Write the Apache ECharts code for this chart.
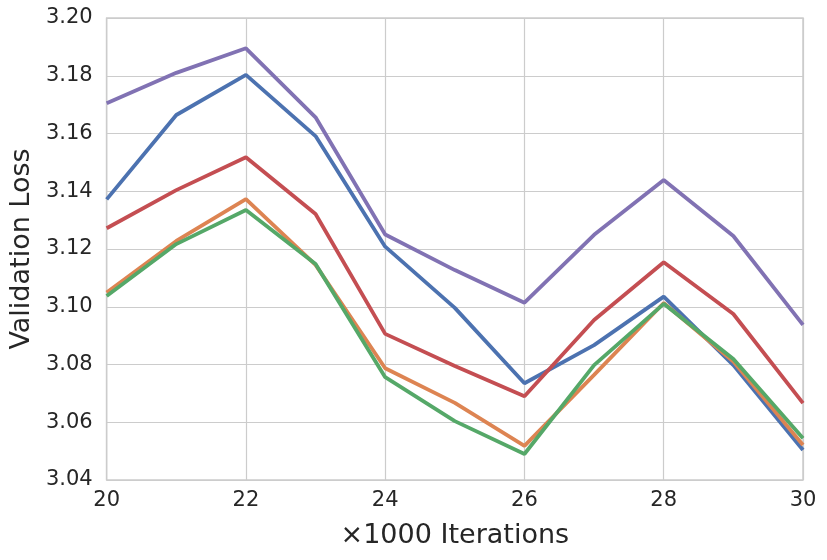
<!DOCTYPE html>
<html><head><meta charset="utf-8">
<script src="https://cdn.jsdelivr.net/npm/echarts@6/dist/echarts.min.js"></script>
<style>html,body{margin:0;padding:0;background:#fff}#c{width:827px;height:560px}</style>
</head><body><div id="c"></div>
<script>
const iterations = [20,21,22,23,24,25,26,27,28,29,30];
const seriesBlue   = [3.1372,3.1664,3.1803,3.1591,3.1208,3.0996,3.0735,3.0867,3.1035,3.0798,3.0504];
const seriesOrange = [3.1049,3.1228,3.1373,3.1145,3.0787,3.0667,3.0518,3.0764,3.1013,3.0810,3.0521];
const seriesGreen  = [3.1037,3.1217,3.1335,3.1148,3.0756,3.0604,3.0490,3.0798,3.1010,3.0819,3.0545];
const seriesRed    = [3.1272,3.1404,3.1518,3.1321,3.0906,3.0795,3.0690,3.0954,3.1154,3.0975,3.0666];
const seriesPurple = [3.1705,3.1810,3.1895,3.1656,3.1250,3.1127,3.1014,3.1249,3.1439,3.1245,3.0937];
const xLabel = '×1000 Iterations';
const yLabel = 'Validation Loss';

const colors = ['#4C72B0','#DD8452','#55A868','#C44E52','#8172B3'];
const all = [seriesBlue, seriesOrange, seriesGreen, seriesRed, seriesPurple];
const font = 'DejaVu Sans';
const chart = echarts.init(document.getElementById('c'), null, {renderer:'canvas'});
chart.setOption({
  animation:false,
  backgroundColor:'#fff',
  grid:{left:106, top:18, width:697, height:462, show:true, borderColor:'#cccccc', borderWidth:1.5},
  xAxis:{type:'value', min:20, max:30, interval:2,
    name:xLabel, nameLocation:'middle', nameGap:42,
    nameTextStyle:{fontFamily:font, fontSize:27, color:'#262626'},
    axisLine:{show:false}, axisTick:{show:false},
    axisLabel:{fontFamily:font, fontSize:21, color:'#262626', margin:10},
    splitLine:{show:true, lineStyle:{color:'#cccccc', width:1.2}}},
  yAxis:{type:'value', min:3.04, max:3.20, interval:0.02,
    name:yLabel, nameLocation:'middle', nameGap:58,
    nameTextStyle:{fontFamily:font, fontSize:27, color:'#262626'},
    axisLine:{show:false}, axisTick:{show:false},
    axisLabel:{fontFamily:font, fontSize:21, color:'#262626', margin:14, formatter:v=>v.toFixed(2)},
    splitLine:{show:true, lineStyle:{color:'#cccccc', width:1.2}}},
  series: all.map((d,i)=>({
    type:'line', data:iterations.map((x,j)=>[x,d[j]]), showSymbol:false,
    lineStyle:{color:colors[i], width:3.8}, itemStyle:{color:colors[i]}, z:2+i
  }))
});
</script></body></html>
